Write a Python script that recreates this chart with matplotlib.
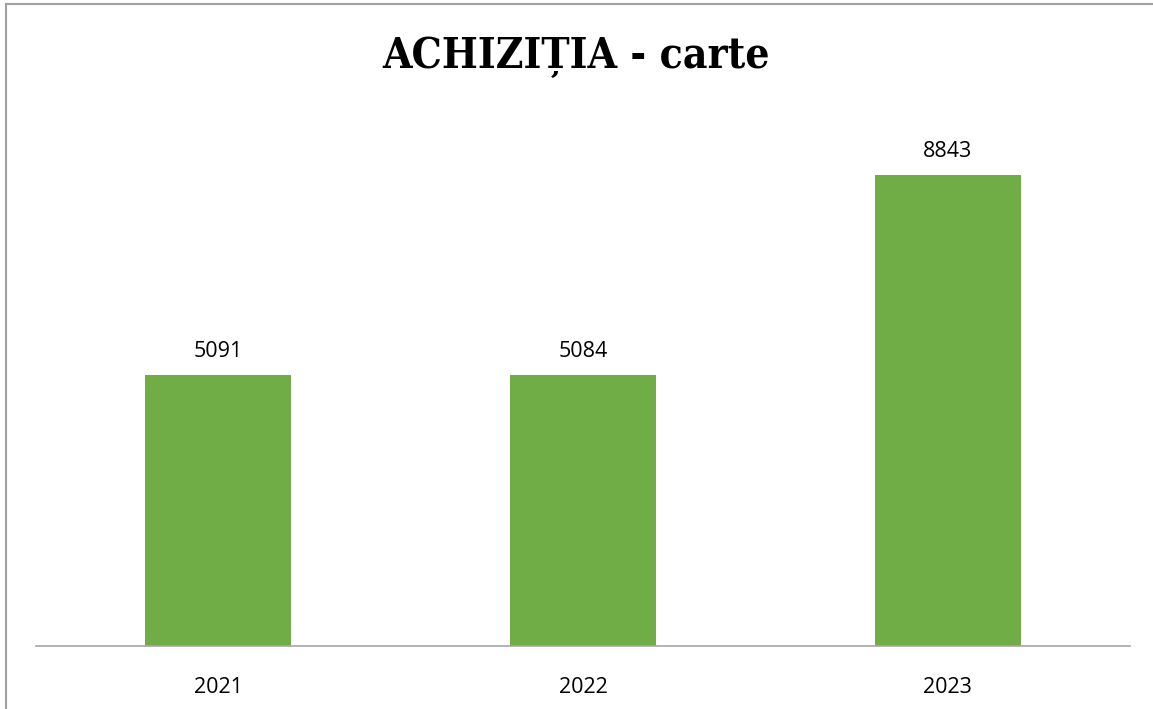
import matplotlib
matplotlib.use("Agg")
import matplotlib.pyplot as plt
from matplotlib.lines import Line2D

# ==========================================================
# DATA
# ==========================================================

years = ["2021", "2022", "2023"]
books = [5091, 5084, 8843]

title = "ACHIZIȚIA - carte"
bar_color = "#70AD47"

# ==========================================================
# PLOT
# ==========================================================

W, H = 1153, 709
fig = plt.figure(figsize=(W / 100, H / 100), dpi=100)

# axes placed in pixel coordinates of the reference
left, right, top, bottom = 36, 1130, 113.4, 646
ax = fig.add_axes([left / W, 1 - bottom / H, (right - left) / W, (bottom - top) / H])

x = range(len(years))
bars = ax.bar(x, books, width=0.4, color=bar_color, zorder=2)

ax.set_xlim(-0.5, 2.5)
ax.set_ylim(0, 10000)
ax.set_xticks(list(x))
ax.set_xticklabels(years, fontsize=15.5, family="Open Sans")
ax.tick_params(axis="x", length=0, pad=22)
ax.set_yticks([])

for s in ["left", "right", "top"]:
    ax.spines[s].set_visible(False)
ax.spines["bottom"].set_color("#a6a6a6")
ax.spines["bottom"].set_linewidth(1.2)

for rect, v in zip(bars, books):
    ax.annotate(
        str(v),
        (rect.get_x() + rect.get_width() / 2, v),
        xytext=(0, 13),
        textcoords="offset pixels",
        ha="center",
        va="bottom",
        fontsize=15.5,
        family="Open Sans",
    )

fig.text(
    0.5, 1 - 57 / H, title,
    ha="center", va="center",
    fontsize=30.5, fontweight="bold", fontstretch="condensed", family="DejaVu Serif",
)

# chart border (top and left only are visible in the reference)
fig.add_artist(Line2D([6 / W, 6 / W], [0, 1 - 4 / H], color="#a0a0a0", lw=1.5,
                      transform=fig.transFigure))
fig.add_artist(Line2D([6 / W, 1], [1 - 4 / H, 1 - 4 / H], color="#a0a0a0", lw=1.5,
                      transform=fig.transFigure))

# ==========================================================
# SAVE
# ==========================================================

plt.savefig("out.png", dpi=100)
